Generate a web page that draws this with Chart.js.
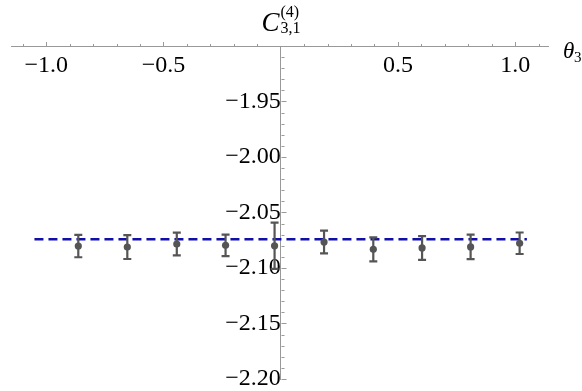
<!DOCTYPE html>
<html>
<head>
<meta charset="utf-8">
<script src="https://cdn.jsdelivr.net/npm/chart.js@4"></script>
<style>
  html, body { margin: 0; padding: 0; background: #fff; }
  #wrap { width: 582px; height: 391px; }
</style>
</head>
<body>
<div id="wrap"><canvas id="grafica" width="582" height="391"></canvas></div>
<script>
// datos
const theta = [-0.863, -0.654, -0.443, -0.235, -0.026, 0.185, 0.395, 0.603, 0.810, 1.019];
const coef = [-2.0802, -2.0811, -2.0784, -2.0796, -2.0800, -2.0766, -2.0832, -2.0819, -2.0810, -2.0777];
const coefErr = [0.0101, 0.0108, 0.0102, 0.0097, 0.0208, 0.0102, 0.0108, 0.0107, 0.0110, 0.0097];
const fitX = [-1.05, 1.05];
const fitY = [-2.0742, -2.0742];

const xTickValues = [-1.0, -0.5, 0.5, 1.0];
const xTickLabels = ['\u22121.0', '\u22120.5', '0.5', '1.0'];
const yTickValues = [-1.95, -2.00, -2.05, -2.10, -2.15, -2.20];
const yTickLabels = ['\u22121.95', '\u22122.00', '\u22122.05', '\u22122.10', '\u22122.15', '\u22122.20'];

const axisColor = '#999999';
const pointColor = '#555555';
const serif = "'Liberation Serif', 'Times New Roman', serif";

// marcas de los ejes (mayores y menores), barras de error y rotulos
const decoraciones = {
    id: 'decoraciones',
    afterDatasetsDraw(chart) {
        const { ctx } = chart;
        const x = chart.scales.x, y = chart.scales.y;
        ctx.save();
        ctx.strokeStyle = pointColor;
        ctx.lineWidth = 2.2;
        theta.forEach((t, i) => {
            const px = x.getPixelForValue(t);
            const top = y.getPixelForValue(coef[i] + coefErr[i]);
            const bot = y.getPixelForValue(coef[i] - coefErr[i]);
            ctx.beginPath();
            ctx.moveTo(px, top); ctx.lineTo(px, bot);
            ctx.moveTo(px - 4, top); ctx.lineTo(px + 4, top);
            ctx.moveTo(px - 4, bot); ctx.lineTo(px + 4, bot);
            ctx.stroke();
        });
        ctx.restore();
    },
    afterDraw(chart) {
        const { ctx } = chart;
        const x = chart.scales.x, y = chart.scales.y;
        const x0 = Math.round(x.getPixelForValue(0)) + 0.5;
        const y0 = Math.round(y.getPixelForValue(-1.9)) + 0.5;
        ctx.save();
        ctx.strokeStyle = axisColor;
        ctx.lineWidth = 1;
        ctx.beginPath();
        for (let k = -11; k <= 11; k++) {
            if (k === 0) continue;
            const px = Math.round(x.getPixelForValue(k / 10)) + 0.5;
            ctx.moveTo(px, y0);
            ctx.lineTo(px, y0 - (k % 5 === 0 ? 4.5 : 2.5));
        }
        for (let k = 190; k <= 220; k++) {
            const py = Math.round(y.getPixelForValue(-k / 100)) + 0.5;
            ctx.moveTo(x0, py);
            ctx.lineTo(x0 + (k % 5 === 0 ? 5 : 3), py);
        }
        ctx.stroke();

        ctx.fillStyle = '#000';
        ctx.textBaseline = 'alphabetic';
        ctx.textAlign = 'left';
        // C^(4)_{3,1}
        ctx.font = 'italic 27px ' + serif;
        ctx.fillText('C', x0 - 20, 31);
        ctx.font = '16px ' + serif;
        ctx.fillText('(4)', x0 - 1, 17);
        ctx.fillText('3,1', x0 - 1, 33);
        // theta_3
        ctx.font = 'italic 23px ' + serif;
        ctx.fillText('\u03b8', 563, 58);
        ctx.font = '15px ' + serif;
        ctx.fillText('3', 574, 62);
        ctx.restore();
    }
};

const ctx = document.getElementById('grafica').getContext('2d');
new Chart(ctx, {
    type: 'scatter',
    data: {
        datasets: [
            {
                label: 'C',
                data: theta.map((t, i) => ({ x: t, y: coef[i] })),
                backgroundColor: pointColor,
                borderColor: pointColor,
                pointRadius: 3.6,
                borderWidth: 0,
                order: 0
            },
            {
                label: 'ajuste',
                type: 'line',
                data: fitX.map((t, i) => ({ x: t, y: fitY[i] })),
                borderColor: 'rgb(16,16,168)',
                borderWidth: 2.5,
                borderDash: [9, 5],
                pointRadius: 0,
                order: 1
            }
        ]
    },
    plugins: [decoraciones],
    options: {
        responsive: false,
        animation: false,
        devicePixelRatio: 1,
        layout: { padding: { left: 11, right: 34, top: 46, bottom: 12 } },
        plugins: { legend: { display: false }, tooltip: { enabled: false } },
        scales: {
            x: {
                type: 'linear',
                min: -1.15,
                max: 1.14,
                position: { y: -1.9 },
                grid: { display: false, drawTicks: false },
                border: { display: true, color: axisColor, width: 1 },
                afterBuildTicks: s => { s.ticks = xTickValues.map(v => ({ value: v })); },
                afterFit: s => { s.paddingLeft = 0; s.paddingRight = 0; },
                ticks: {
                    autoSkip: false,
                    maxRotation: 0,
                    padding: 5,
                    color: '#000',
                    font: { family: serif, size: 24 },
                    callback: (v, i) => xTickLabels[i]
                }
            },
            y: {
                type: 'linear',
                min: -2.2,
                max: -1.9,
                position: { x: 0 },
                grid: { display: false, drawTicks: false },
                border: { display: true, color: axisColor, width: 1 },
                afterBuildTicks: s => { s.ticks = yTickValues.map(v => ({ value: v })); },
                afterFit: s => { s.paddingTop = 0; s.paddingBottom = 0; },
                ticks: {
                    autoSkip: false,
                    padding: 7,
                    color: '#000',
                    font: { family: serif, size: 24 },
                    callback: (v, i) => yTickLabels[i]
                }
            }
        }
    }
});
</script>
</body>
</html>
